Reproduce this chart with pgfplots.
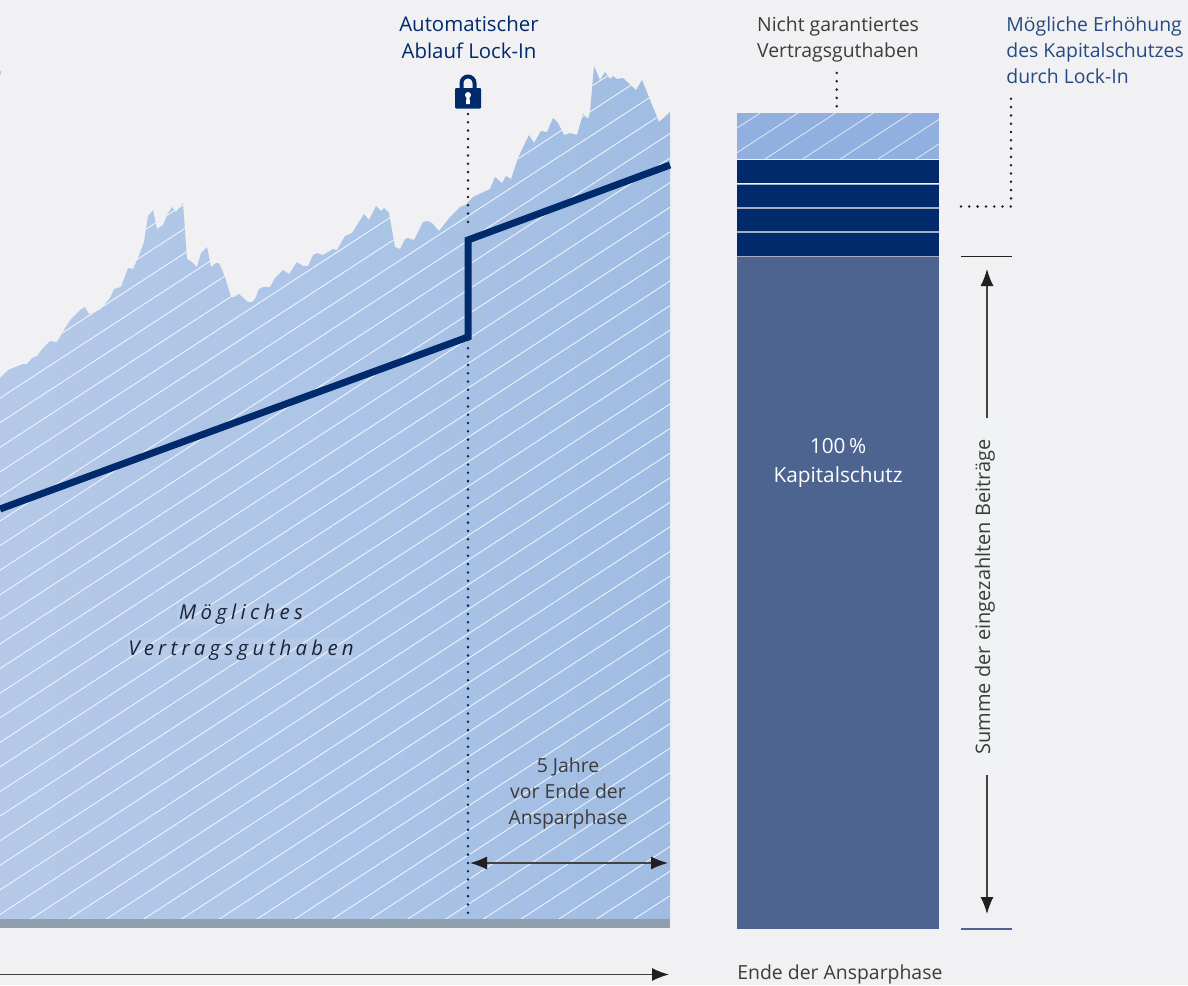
\documentclass[border=0pt]{standalone}
\usepackage{fontspec}
\setmainfont{Open Sans}
\usepackage{pgfplots}
\usepackage{pgfplotstable}
\pgfplotsset{compat=1.18}
\usetikzlibrary{patterns.meta,arrows.meta}
\definecolor{bg}{HTML}{F1F1F3}
\definecolor{navy}{HTML}{002A6C}
\definecolor{slate}{HTML}{4C648F}
\definecolor{basegrey}{HTML}{8F9FAE}
\definecolor{txt}{HTML}{3C3C3C}
\definecolor{ink}{HTML}{231F20}
\definecolor{areaL}{HTML}{B5C8E7}
\definecolor{areaM}{HTML}{ACC5E7}
\definecolor{areaR}{HTML}{A0BCE2}
\definecolor{coltop}{HTML}{92B0DF}
\definecolor{halo}{HTML}{EFF3F3}
\definecolor{labink}{HTML}{1A2238}
\definecolor{sep}{HTML}{A6AEC4}
% picture pixels, y downwards
\pgfplotstableread{
x y
0 378
8 370
23 364
27 364
32 358
37 356
43 348
50 341
57 342
65 328
71 319
80 310
85 307
89 314
95 312
101 309
110 298
114 289
121 287
128 268
133 269
138 258
144 242
148 216
153 210
157 229
163 225
168 213
172 207
176 212
183 203
187 259
192 262
197 267
201 253
207 247
211 267
216 263
219 263
225 277
231 297
234 297
239 294
248 302
252 302
255 299
259 289
263 287
270 287
275 278
283 270
289 274
297 262
303 266
308 266
313 255
317 253
323 255
333 249
337 250
345 236
352 233
364 214
369 220
376 206
381 211
384 208
389 213
395 247
400 249
405 239
408 238
414 240
423 222
427 221
432 223
439 231
450 217
460 207
465 205
473 197
490 189
495 177
502 183
506 176
511 179
518 158
527 139
529 135
534 143
541 131
547 132
553 118
558 123
564 135
570 133
577 135
583 114
588 119
590 112
594 66
600 80
605 72
610 79
613 76
617 79
623 78
636 90
642 80
659 122
670 112
670 919
0 919
}\guthaben
\begin{document}
\begin{tikzpicture}[
  hatchA/.style={pattern={Lines[angle=33.1,distance=10.3pt,line width=0.42pt,xshift=2.5pt]},pattern color=white!85!areaM},
  hatchB/.style={pattern={Lines[angle=33.1,distance=10.3pt,line width=0.42pt,xshift=-5.85pt]},pattern color=white!70!coltop},
  arr/.style={draw=ink!85,line width=0.7pt,-{Latex[length=8.5pt,width=6.5pt,color=ink]}},
  arrb/.style={draw=ink!85,line width=0.7pt,{Latex[length=8.5pt,width=6.5pt,color=ink]}-{Latex[length=8.5pt,width=6.5pt,color=ink]}},
  dots/.style={line cap=round,line width=1.4pt,dash pattern=on 0pt off 4.15pt},
  lab/.style={font=\fontsize{9.7}{13}\selectfont,align=center,inner sep=0pt,text=txt,anchor=center}
]
\begin{axis}[
  scale only axis,width=594pt,height=492.5pt,
  xmin=0,xmax=1188,ymin=0,ymax=985,y dir=reverse,
  hide axis,clip=true
]
% background
\addplot[fill=bg,draw=none] coordinates {(0,0)(1188,0)(1188,985)(0,985)} --cycle;
\addplot[fill=bg!70!slate,draw=none] coordinates {(0,71)(1.5,71)(1.5,75)(0,75)} --cycle;
% possible contract value
\addplot[draw=none,left color=areaL,right color=areaR,middle color=areaM] table {\guthaben} --cycle;
\addplot[draw=none,hatchA] table {\guthaben} --cycle;
% base strip
\addplot[fill=basegrey,draw=none] coordinates {(0,919)(670,919)(670,928)(0,928)} --cycle;
% faint boxes behind the area label
\addplot[fill=white,fill opacity=0.08,draw=none] coordinates {(177,604)(304,604)(304,625)(177,625)} --cycle;
\addplot[fill=white,fill opacity=0.08,draw=none] coordinates {(128,638)(352,638)(352,659)(128,659)} --cycle;
% guarantee line
\addplot[navy,line width=3.5pt,miter limit=10] coordinates {(0,509)(468,337)(468,240)(670,165)};
% column
\addplot[draw=none,fill=coltop] coordinates {(737,113)(939,113)(939,159)(737,159)} --cycle;
\addplot[draw=none,hatchB] coordinates {(737,113)(939,113)(939,159)(737,159)} --cycle;
\addplot[fill=sep,draw=none] coordinates {(737,184)(939,184)(939,257)(737,257)} --cycle;
\addplot[fill=navy,draw=none] coordinates {(737,160)(939,160)(939,183)(737,183)} --cycle;
\addplot[fill=navy,draw=none] coordinates {(737,184.5)(939,184.5)(939,207)(737,207)} --cycle;
\addplot[fill=navy,draw=none] coordinates {(737,208.5)(939,208.5)(939,231)(737,231)} --cycle;
\addplot[fill=navy,draw=none] coordinates {(737,233)(939,233)(939,255.5)(737,255.5)} --cycle;
\addplot[fill=slate,draw=none] coordinates {(737,257)(939,257)(939,929)(737,929)} --cycle;
% guides
\addplot[ink,dots] coordinates {(468,114)(468,229)};
\addplot[navy,dots] coordinates {(468,340)(468,916)};
\addplot[ink,dots] coordinates {(836.7,73)(836.7,107)};
\addplot[ink,dots] coordinates {(961,206.5)(1011,206.5)(1011,98)};
\addplot[ink,line width=0.6pt] coordinates {(961,256.5)(1012,256.5)};
\addplot[slate,line width=0.6pt] coordinates {(961,929)(1012,929)};
\addplot[arrb] coordinates {(470,863)(668,863)};
\addplot[arr] coordinates {(0,974.5)(669,974.5)};
\addplot[ink!85,line width=0.7pt,{Latex[length=8.5pt,width=6.5pt,color=ink]}-] coordinates {(987,269)(987,418)};
\addplot[ink!85,line width=0.7pt,-{Latex[length=8.5pt,width=6.5pt,color=ink]}] coordinates {(987,775)(987,914)};
\addplot[fill=halo,draw=none] coordinates {(974,420)(1005,420)(1005,773)(974,773)} --cycle;
% lock
\fill[navy,rounded corners=0.5pt] (axis cs:455,88) rectangle (axis cs:481,108.5);
\draw[navy,line width=2pt] (axis cs:461.5,89) -- (axis cs:461.5,83) arc[start angle=180,end angle=0,radius=3.25pt] -- (axis cs:474.5,89);
\fill[white] (axis cs:468,95) circle[radius=1.5pt];
\fill[white] (axis cs:466.5,96) -- (axis cs:469.5,96) -- (axis cs:470,104) -- (axis cs:466,104) -- cycle;
% labels
\node[lab,text=navy,font=\fontsize{10.2}{13.5}\selectfont] at (axis cs:469,37.5) {Automatischer\\Ablauf Lock-In};
\node[lab] at (axis cs:838,39.5) {Nicht garantiertes\\Vertragsguthaben};
\node[lab,align=left,anchor=west,text=navy!85!white] at (axis cs:1006,50) {Mögliche Erhöhung\\des Kapitalschutzes\\durch Lock-In};
\node[lab,text=white,font=\fontsize{10.4}{14.5}\selectfont] at (axis cs:838,463) {100\,\%\\Kapitalschutz};
\node[lab,text=labink,font=\fontsize{10.2}{18}\selectfont\itshape\addfontfeatures{LetterSpace=21}] at (axis cs:241,632) {Mögliches\\Vertragsguthaben};
\node[lab] at (axis cs:568,793) {5 Jahre\\vor Ende der\\Ansparphase};
\node[lab,anchor=west] at (axis cs:737,974) {Ende der Ansparphase};
\node[lab,rotate=90,font=\fontsize{10}{13}\selectfont] at (axis cs:985,597) {Summe der eingezahlten Beiträge};
\end{axis}
\end{tikzpicture}
\end{document}
